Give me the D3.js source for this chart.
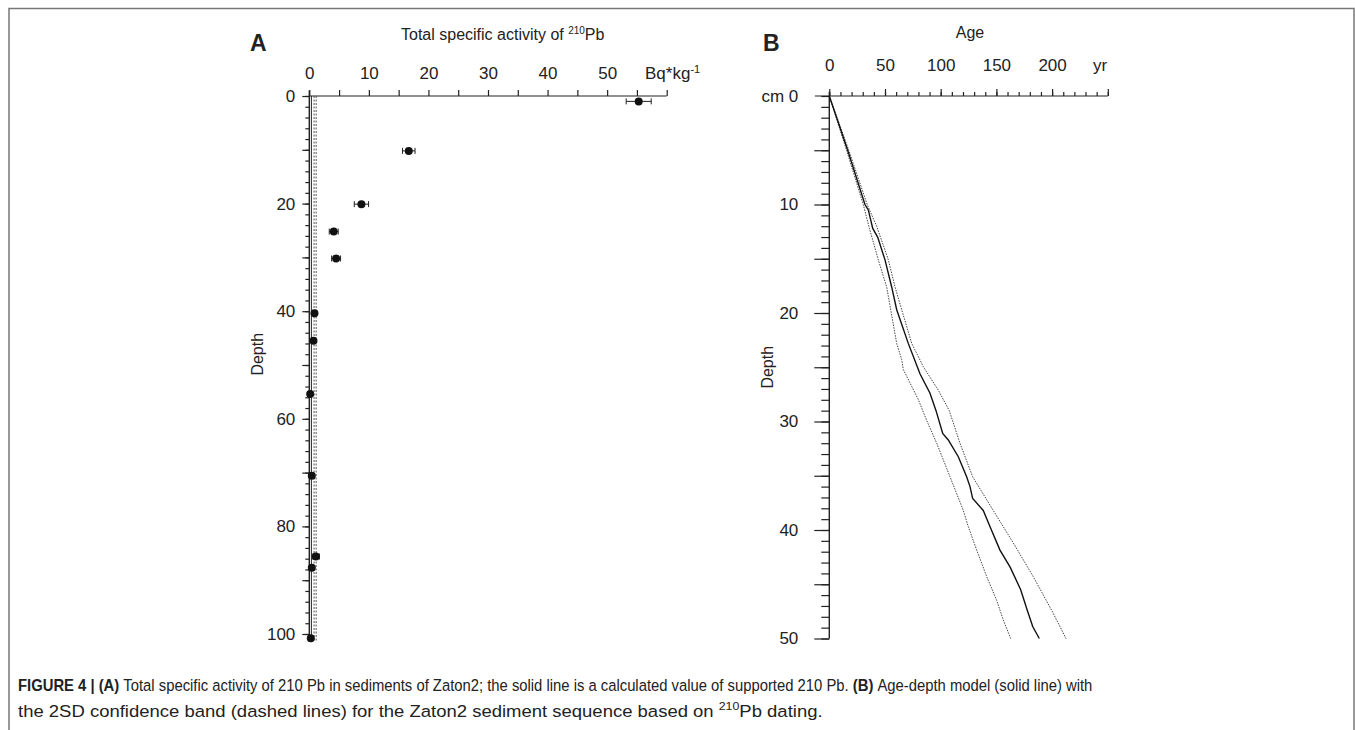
<!DOCTYPE html>
<html>
<head>
<meta charset="utf-8">
<script src="https://cdn.jsdelivr.net/npm/d3@7"></script>
<style>
  html, body { margin: 0; padding: 0; background: #fff; }
  svg { display: block; }
  text { font-family: "Liberation Sans", Arial, sans-serif; fill: #222; }
</style>
</head>
<body>
<svg id="chart" width="1355" height="730"></svg>
<script>
// ---------- Panel A data: total specific activity of 210Pb ----------
const depthA    = [1, 10.2, 20.1, 25.2, 30.2, 40.4, 45.5, 55.4, 70.6, 85.6, 87.7, 100.8];
const activityA = [55.3, 16.7, 8.75, 4.1, 4.5, 0.87, 0.7, 0.15, 0.42, 1.1, 0.42, 0.25];
const errorA    = [2.1, 1.05, 1.2, 0.75, 0.75, 0.3, 0.3, 0.2, 0.35, 0.6, 0.3, 0.2];
const supportedSolid  = 0.35;
const supportedDashed = [0.8, 1.15];
const xTicksA = [0, 10, 20, 30, 40, 50];
const yTicksA = [0, 20, 40, 60, 80, 100];

// ---------- Panel B data: age-depth model ----------
const depthModel = [0, 5, 10, 10.5, 12.2, 13, 15.1, 17.6, 19.7, 22.8, 25.6, 27.4, 29.0, 31.1, 31.7, 33.25, 35.1, 36.0, 37.1, 38.2, 39.7, 41.85, 43.4, 45.5, 47.4, 48.9, 50];
const ageModel   = [0, 16.5, 32, 35, 39, 43.4, 50, 56, 60.5, 70.9, 81.4, 90.4, 95.8, 101.8, 106.8, 115.8, 123.3, 126.3, 128.7, 138.2, 144.3, 153.2, 162.2, 171.8, 177.7, 182.6, 188.5];
const depthLow   = [0, 5, 10, 12.2, 15.1, 17.6, 22.8, 24.3, 25.2, 28, 29.9, 32, 35.1, 38.2, 39.7, 41.85, 44.3, 46.5, 48.3, 50];
const ageLow     = [0, 15.5, 30.5, 36, 44, 51.5, 60.5, 65, 66.4, 80, 87.4, 96.4, 108.4, 120.3, 124.8, 132.3, 141.3, 150.3, 156.2, 162.8];
const depthHigh  = [0, 5, 10, 12, 15.1, 17.6, 19.7, 22.8, 24.95, 27.1, 29, 32, 35.1, 38.2, 41.2, 44.3, 47.4, 50];
const ageHigh    = [0, 17.5, 34, 42.5, 53, 59, 65, 74, 84.4, 97.8, 107.7, 117.3, 128.7, 147.2, 165.2, 183.1, 199.6, 212.5];
const xTicksB = [0, 50, 100, 150, 200];
const yTicksB = [0, 10, 20, 30, 40, 50];

const svg = d3.select("#chart");
const ink = "#222";

// frame
svg.append("rect").attr("x", 9).attr("y", 8.5).attr("width", 1345).attr("height", 740)
  .attr("fill", "none").attr("stroke", "#777").attr("stroke-width", 1.5);

function styleAxis(g) {
  g.select(".domain").remove();
  g.selectAll("line").attr("stroke", ink).attr("stroke-width", 1.2);
  g.selectAll("text").attr("font-family", "Liberation Sans, Arial, sans-serif").attr("fill", ink);
}

// ================= Panel A =================
const xA = d3.scaleLinear().domain([0, 60]).range([309.3, 666.7]);
const yA = d3.scaleLinear().domain([0, 100]).range([96, 634]);
const gA = svg.append("g");

gA.append("g").attr("transform", `translate(0,${yA(0)})`)
  .call(d3.axisTop(xA).tickValues(d3.range(0, 61, 5)).tickSize(6).tickFormat(""))
  .call(styleAxis);
gA.append("g").attr("transform", `translate(0,${yA(0)})`)
  .call(d3.axisTop(xA).tickValues(xTicksA).tickSize(0).tickPadding(17))
  .call(styleAxis)
  .selectAll("text").attr("font-size", 17);
gA.append("line").attr("x1", xA(0)).attr("x2", xA(60)).attr("y1", yA(0)).attr("y2", yA(0))
  .attr("stroke", ink).attr("stroke-width", 1.2);

gA.append("g").attr("transform", `translate(${xA(0)},0)`)
  .call(d3.axisLeft(yA).tickValues(d3.range(0, 101, 2)).tickSize(4).tickFormat(""))
  .call(styleAxis);
gA.append("g").attr("transform", `translate(${xA(0)},0)`)
  .call(d3.axisLeft(yA).tickValues(d3.range(0, 101, 10)).tickSize(7).tickFormat(""))
  .call(styleAxis);
gA.append("g").attr("transform", `translate(${xA(0)},0)`)
  .call(d3.axisLeft(yA).tickValues(yTicksA).tickSize(0).tickPadding(14))
  .call(styleAxis)
  .selectAll("text").attr("font-size", 17);
gA.append("line").attr("x1", xA(0)).attr("x2", xA(0)).attr("y1", yA(-1)).attr("y2", yA(101.5))
  .attr("stroke", ink).attr("stroke-width", 1.4);

gA.append("line").attr("x1", xA(supportedSolid)).attr("x2", xA(supportedSolid))
  .attr("y1", yA(0)).attr("y2", yA(101.5)).attr("stroke", ink).attr("stroke-width", 1);
supportedDashed.forEach(v => {
  gA.append("line").attr("x1", xA(v)).attr("x2", xA(v))
    .attr("y1", yA(0)).attr("y2", yA(101.5)).attr("stroke", "#555")
    .attr("stroke-width", 1).attr("stroke-dasharray", "2,1.5");
});

const ptsA = depthA.map((d, i) => ({ d, a: activityA[i], e: errorA[i] }));
const eb = gA.append("g").attr("stroke", ink).attr("stroke-width", 1);
ptsA.forEach(p => {
  eb.append("line").attr("x1", xA(p.a - p.e)).attr("x2", xA(p.a + p.e)).attr("y1", yA(p.d)).attr("y2", yA(p.d));
  [p.a - p.e, p.a + p.e].forEach(v => {
    eb.append("line").attr("x1", xA(v)).attr("x2", xA(v)).attr("y1", yA(p.d) - 3).attr("y2", yA(p.d) + 3);
  });
});
gA.append("g").selectAll("circle").data(ptsA).join("circle")
  .attr("cx", p => xA(p.a)).attr("cy", p => yA(p.d)).attr("r", 4).attr("fill", "#111");

gA.append("text").attr("x", 250).attr("y", 51).attr("font-size", 23).attr("font-weight", "bold").attr("fill", "#111").text("A");
const tA = gA.append("text").attr("x", 401).attr("y", 40).attr("font-size", 16);
tA.append("tspan").text("Total specific activity of ");
tA.append("tspan").attr("font-size", 10).attr("dy", -6).text("210");
tA.append("tspan").attr("dy", 6).text("Pb");
const uA = gA.append("text").attr("x", 645).attr("y", yA(0) - 17).attr("font-size", 17);
uA.append("tspan").text("Bq*kg");
uA.append("tspan").attr("font-size", 11).attr("dy", -6).text("-1");
gA.append("text").attr("transform", `translate(263,${yA(48)}) rotate(-90)`)
  .attr("text-anchor", "middle").attr("font-size", 16).text("Depth");

// ================= Panel B =================
const xB = d3.scaleLinear().domain([0, 250]).range([829.3, 1107.8]);
const yB = d3.scaleLinear().domain([0, 50]).range([96, 638.5]);
const gB = svg.append("g");

gB.append("g").attr("transform", `translate(0,${yB(0)})`)
  .call(d3.axisTop(xB).tickValues(d3.range(0, 251, 10)).tickSize(4).tickFormat(""))
  .call(styleAxis);
gB.append("g").attr("transform", `translate(0,${yB(0)})`)
  .call(d3.axisTop(xB).tickValues(d3.range(0, 251, 50)).tickSize(7).tickFormat(""))
  .call(styleAxis);
gB.append("g").attr("transform", `translate(0,${yB(0)})`)
  .call(d3.axisTop(xB).tickValues(xTicksB).tickSize(0).tickPadding(25))
  .call(styleAxis)
  .selectAll("text").attr("font-size", 17);
gB.append("line").attr("x1", xB(-13)).attr("x2", xB(250)).attr("y1", yB(0)).attr("y2", yB(0))
  .attr("stroke", ink).attr("stroke-width", 1.2);
gB.append("text").attr("x", xB(243)).attr("y", yB(0) - 25).attr("text-anchor", "middle").attr("font-size", 17).text("yr");

gB.append("g").attr("transform", `translate(${xB(0)},0)`)
  .call(d3.axisLeft(yB).tickValues(d3.range(0, 51, 1)).tickSize(8).tickFormat(""))
  .call(styleAxis);
gB.append("g").attr("transform", `translate(${xB(0)},0)`)
  .call(d3.axisLeft(yB).tickValues(d3.range(5, 51, 5)).tickSize(15).tickFormat(""))
  .call(styleAxis);
gB.append("g").attr("transform", `translate(${xB(0)},0)`)
  .call(d3.axisLeft(yB).tickValues(yTicksB).tickSize(0).tickPadding(31)
        .tickFormat(d => d === 0 ? "cm 0" : d))
  .call(styleAxis)
  .selectAll("text").attr("font-size", 17);
gB.append("line").attr("x1", xB(0)).attr("x2", xB(0)).attr("y1", yB(-0.4)).attr("y2", yB(50))
  .attr("stroke", ink).attr("stroke-width", 1.4);

const lineB = d3.line().x(p => xB(p[0])).y(p => yB(p[1]));
gB.append("path").attr("d", lineB(ageLow.map((a, i) => [a, depthLow[i]])))
  .attr("fill", "none").attr("stroke", "#444").attr("stroke-width", 1).attr("stroke-dasharray", "1.5,1.2");
gB.append("path").attr("d", lineB(ageHigh.map((a, i) => [a, depthHigh[i]])))
  .attr("fill", "none").attr("stroke", "#444").attr("stroke-width", 1).attr("stroke-dasharray", "1.5,1.2");
gB.append("path").attr("d", lineB(ageModel.map((a, i) => [a, depthModel[i]])))
  .attr("fill", "none").attr("stroke", "#111").attr("stroke-width", 1.4);

gB.append("text").attr("x", 763).attr("y", 51).attr("font-size", 23).attr("font-weight", "bold").attr("fill", "#111").text("B");
gB.append("text").attr("x", 970).attr("y", 38).attr("text-anchor", "middle").attr("font-size", 16).text("Age");
gB.append("text").attr("transform", `translate(773,${yB(25)}) rotate(-90)`)
  .attr("text-anchor", "middle").attr("font-size", 16).text("Depth");

// ================= Caption (condensed by horizontal scaling) =================
function captionLine(y, targetWidth, build) {
  const g = svg.append("g");
  const t = g.append("text").attr("x", 0).attr("y", 0).attr("font-size", 16.5);
  build(t);
  const w = t.node().getComputedTextLength();
  const k = targetWidth / w;
  g.attr("transform", `translate(18,${y}) scale(${k},1)`);
}
captionLine(691, 1075, t => {
  t.append("tspan").attr("font-weight", "bold").text("FIGURE 4 | (A) ");
  t.append("tspan").text("Total specific activity of 210 Pb in sediments of Zaton2; the solid line is a calculated value of supported 210 Pb. ");
  t.append("tspan").attr("font-weight", "bold").text("(B) ");
  t.append("tspan").text("Age-depth model (solid line) with");
});
captionLine(717, 805, t => {
  t.append("tspan").text("the 2SD confidence band (dashed lines) for the Zaton2 sediment sequence based on ");
  t.append("tspan").attr("font-size", 11).attr("dy", -7).text("210");
  t.append("tspan").attr("dy", 7).text("Pb dating.");
});
</script>
</body>
</html>
